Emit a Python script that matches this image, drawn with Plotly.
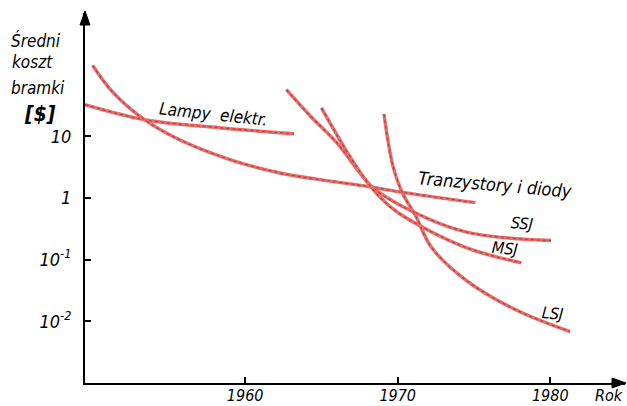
import plotly.graph_objects as go

# ---- data ----
lampy_years = [1949.5, 1953.4, 1958.3, 1963.2]
lampy_cost = [32.6, 18.6, 13.8, 11.0]

tranz_years = [1950.0, 1951.35, 1953.4, 1955.7, 1959.0, 1962.2, 1964.8, 1968.1, 1970.1, 1975.1]
tranz_cost = [141, 51, 18.6, 8.8, 4.2, 2.57, 2.0, 1.53, 1.26, 0.84]

ssj_years = [1962.7, 1964.3, 1966.0, 1968.3, 1970.1, 1974.4, 1980.05]
ssj_cost = [57, 21, 7.9, 1.53, 0.78, 0.285, 0.204]

msj_years = [1965.0, 1967.3, 1968.8, 1970.1, 1974.4, 1978.1]
msj_cost = [29, 3.2, 1.05, 0.56, 0.16, 0.089]

lsj_years = [1969.1, 1969.35, 1969.7, 1970.3, 1971.2, 1972.2, 1974.4, 1977.7, 1981.3]
lsj_cost = [23, 8.8, 3.2, 1.22, 0.5, 0.16, 0.048, 0.0155, 0.0068]

x_tick_vals = [1960, 1970, 1980]
x_tick_text = ["<i>1960</i>", "<i>1970</i>", "<i>1980</i>"]
y_tick_vals = [0.01, 0.1, 1, 10]
y_tick_text = ["<i>10<sup>-2</sup></i>", "<i>10<sup>-1</sup></i>", "<i>1</i>", "<i>10</i>"]

LINE = "#ef6a66"
CORE = "#8f4a4a"
FONT = "DejaVu Sans Condensed, Liberation Sans Narrow, DejaVu Sans, sans-serif"

L, R, T, B = 85, 2, 13, 23
W, H = 627, 406
PW, PH = W - L - R, H - T - B

fig = go.Figure()
for xs, ys in [(lampy_years, lampy_cost), (tranz_years, tranz_cost),
               (ssj_years, ssj_cost), (msj_years, msj_cost), (lsj_years, lsj_cost)]:
    fig.add_trace(go.Scatter(x=xs, y=ys, mode="lines",
                             line=dict(color=LINE, width=3.4, shape="spline", smoothing=1.0),
                             showlegend=False, hoverinfo="skip"))
    fig.add_trace(go.Scatter(x=xs, y=ys, mode="lines",
                             line=dict(color=CORE, width=1.1, shape="spline", smoothing=1.0, dash="dot"),
                             showlegend=False, hoverinfo="skip"))

fig.update_layout(
    width=W, height=H,
    margin=dict(l=L, r=R, t=T, b=B, autoexpand=False),
    paper_bgcolor="white", plot_bgcolor="white",
    font=dict(family=FONT, color="black", size=16),
    xaxis=dict(range=[1949.5, 1984.9], showgrid=False, zeroline=False,
               showline=True, linecolor="black", linewidth=2,
               ticks="inside", ticklen=6, tickwidth=1.5, tickcolor="black",
               tickvals=x_tick_vals, ticktext=x_tick_text, automargin=False,
               ticklabelstandoff=-3,
               tickfont=dict(family=FONT, size=16, color="#000")),
    yaxis=dict(type="log", range=[-3, 3], showgrid=False, zeroline=False,
               showline=True, linecolor="black", linewidth=2,
               ticks="inside", ticklen=6, tickwidth=1.5, tickcolor="black",
               tickvals=y_tick_vals, ticktext=y_tick_text, automargin=False,
               ticklabelstandoff=8,
               tickfont=dict(family=FONT, size=18, color="#000")),
)

# axis arrowheads (paper coordinates derived from pixel sizes)
ya_tip, ya_len, ya_half = 1 + 2 / PH, 14 / PH, 5 / PW
xa_tip, xa_len, xa_half = 1 + 1 / PW, 14 / PW, 5 / PH
fig.add_shape(type="path", xref="paper", yref="paper", fillcolor="black", line=dict(color="black", width=1),
              path=f"M {-ya_half} {ya_tip - ya_len} L 0 {ya_tip} L {ya_half} {ya_tip - ya_len} Z")
fig.add_shape(type="path", xref="paper", yref="paper", fillcolor="black", line=dict(color="black", width=1),
              path=f"M {xa_tip - xa_len} {-xa_half} L {xa_tip} 0 L {xa_tip - xa_len} {xa_half} Z")

ann = []

def lab(text, px, py, size=16, anchor="center", angle=0):
    # px, py in pixel coordinates of the 627x406 canvas
    return dict(xref="paper", yref="paper",
                x=(px - L) / PW, y=(H - B - py) / PH,
                text="<i>" + text + "</i>", showarrow=False, xanchor=anchor, yanchor="middle",
                textangle=angle, font=dict(family=FONT, size=size, color="#000"))

ann.append(lab("Średni", 36, 40, 17))
ann.append(lab("koszt", 32, 62, 17))
ann.append(lab("bramki", 38, 88, 17))
ann.append(lab("<b>[$]</b>", 40, 114, 21))
ann.append(lab("Lampy  elektr.", 213, 114, 17, angle=6))
ann.append(lab("Tranzystory i diody", 495, 184, 18, angle=5))
ann.append(lab("SSJ", 522, 223, 16, angle=5))
ann.append(lab("MSJ", 505, 249, 16, angle=5))
ann.append(lab("LSJ", 552, 313, 16, angle=5))
ann.append(lab("Rok", 609, 395, 16))

fig.update_layout(annotations=ann)
fig.write_html("out.html", config={"displayModeBar": False},
               post_script="document.body.style.margin='0';document.body.style.overflow='hidden';")
